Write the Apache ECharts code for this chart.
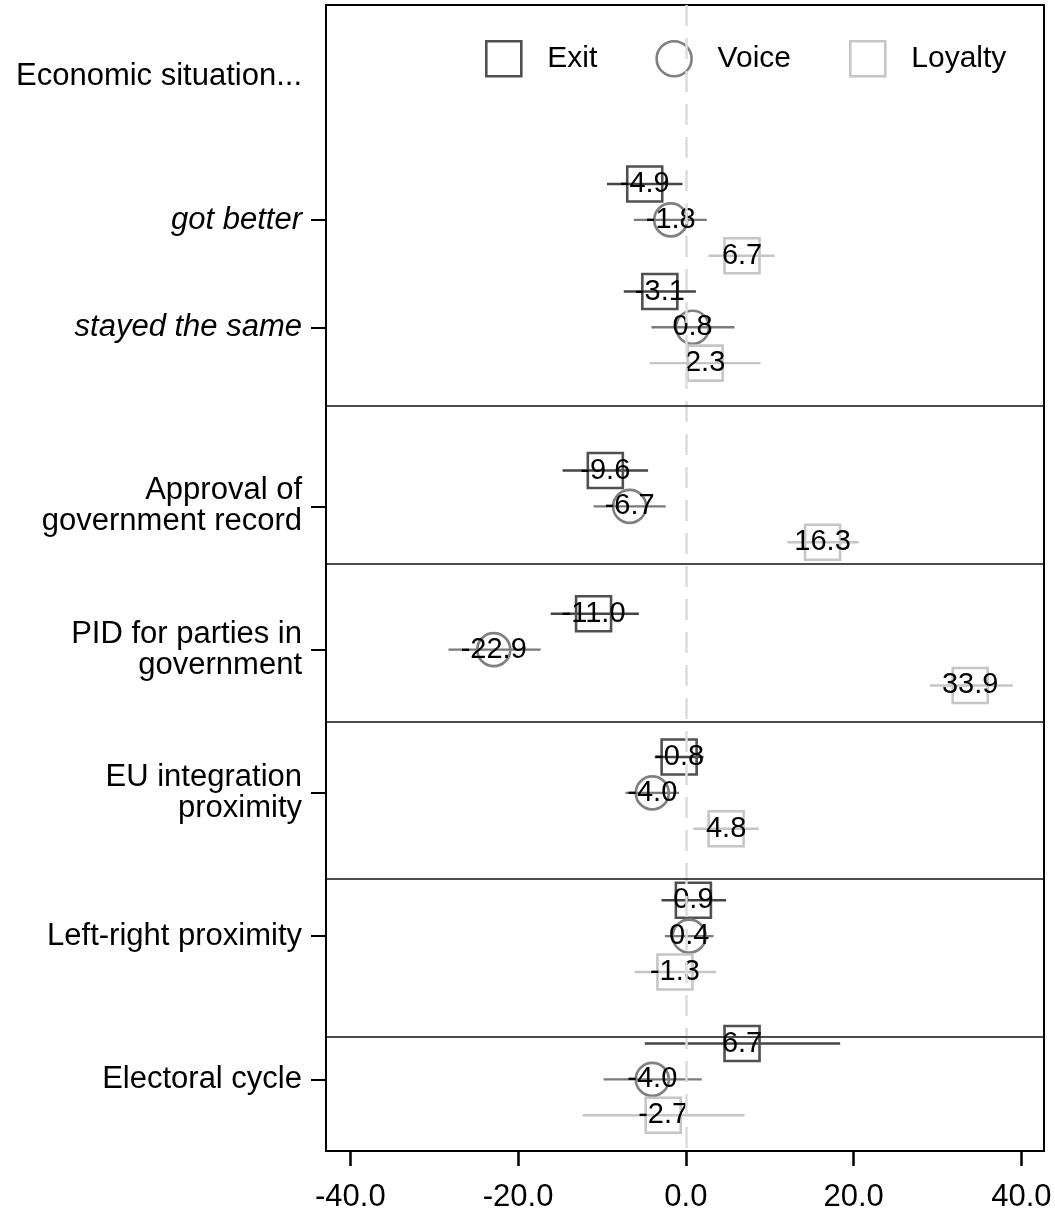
<!DOCTYPE html>
<html>
<head>
<meta charset="utf-8">
<script src="https://cdn.jsdelivr.net/npm/echarts@6/dist/echarts.min.js"></script>
<style>
  html, body { margin: 0; padding: 0; background: #fff; }
  #chart { width: 1055px; height: 1213px; }
</style>
</head>
<body>
<div id="chart"></div>
<script>
// Predictors (rows) and estimates with confidence intervals for each outcome
const categories = [
  'got better',
  'stayed the same',
  'Approval of\ngovernment record',
  'PID for parties in\ngovernment',
  'EU integration\nproximity',
  'Left-right proximity',
  'Electoral cycle'
];
const headerLabel = 'Economic situation...';

const exitEst = [-4.9, -3.1, -9.6, -11.0, -0.8, 0.9, 6.7];
const exitLo  = [-9.4, -7.4, -14.7, -16.1, -3.7, -2.9, -4.9];
const exitHi  = [-0.4, 1.2, -4.5, -5.6, 2.1, 4.8, 18.4];

const voiceEst = [-1.8, 0.8, -6.7, -22.9, -4.0, 0.4, -4.0];
const voiceLo  = [-6.2, -4.1, -11.0, -28.3, -7.2, -2.5, -9.8];
const voiceHi  = [2.5, 5.8, -2.4, -17.3, -0.8, 3.3, 1.9];

const loyaltyEst = [6.7, 2.3, 16.3, 33.9, 4.8, -1.3, -2.7];
const loyaltyLo  = [2.7, -4.3, 12.1, 29.1, 0.9, -6.1, -12.3];
const loyaltyHi  = [10.6, 8.9, 20.6, 39.0, 8.7, 3.6, 7.0];

const xTicks = [-40, -20, 0, 20, 40];

// Layout of the vertical slots: each predictor takes three rows (Exit, Voice, Loyalty)
const rowStart = [5, 8, 13, 17, 21, 25, 29];
const headerRow = 2;
const separators = [11.2, 15.6, 20.0, 24.4, 28.8];

const FONT = '"Liberation Sans", Arial, sans-serif';

const groups = [
  { name: 'Exit',    est: exitEst,    lo: exitLo,    hi: exitHi,    offset: 0, symbol: 'rect',   size: 35, color: '#505050', bar: '#454545' },
  { name: 'Voice',   est: voiceEst,   lo: voiceLo,   hi: voiceHi,   offset: 1, symbol: 'circle', size: 33, color: '#808080', bar: '#7a7a7a' },
  { name: 'Loyalty', est: loyaltyEst, lo: loyaltyLo, hi: loyaltyHi, offset: 2, symbol: 'rect',   size: 35, color: '#c6c6c6', bar: '#c6c6c6' }
];

// y-axis label lookup
const yLabelMap = {};
yLabelMap[headerRow] = headerLabel;
categories.forEach((c, i) => { yLabelMap[rowStart[i] + 1] = c; });
const italicRows = new Set([rowStart[0] + 1, rowStart[1] + 1]);
const labelRows = [headerRow].concat(rowStart.map(r => r + 1));
const tickRows = rowStart.map(r => r + 1);

const series = [];
groups.forEach(g => {
  // confidence interval whiskers
  series.push({
    name: g.name + ' CI',
    type: 'custom',
    z: 2,
    silent: true,
    data: g.est.map((_, i) => [g.lo[i], g.hi[i], rowStart[i] + g.offset]),
    renderItem: function (params, api) {
      const a = api.coord([api.value(0), api.value(2)]);
      const b = api.coord([api.value(1), api.value(2)]);
      return {
        type: 'line',
        shape: { x1: a[0], y1: a[1], x2: b[0], y2: b[1] },
        style: { stroke: g.bar, lineWidth: 2.4, opacity: 1 }
      };
    }
  });
  // point estimates with value labels
  series.push({
    name: g.name,
    type: 'scatter',
    z: 3,
    symbol: g.symbol,
    symbolSize: g.size,
    itemStyle: { color: 'rgba(255,255,255,0)', borderColor: g.color, borderWidth: 2.6, opacity: 1 },
    label: {
      show: true,
      position: 'inside',
      formatter: p => p.value[0].toFixed(1),
      color: '#000',
      opacity: 1,
      textBorderWidth: 0,
      fontFamily: FONT,
      fontSize: 29
    },
    emphasis: { disabled: true },
    data: g.est.map((v, i) => [v, rowStart[i] + g.offset])
  });
});

// zero reference line and panel separators
series.push({
  name: 'guides',
  type: 'line',
  data: [],
  silent: true,
  markLine: {
    silent: true,
    symbol: 'none',
    label: { show: false },
    animation: false,
    data: [
      { xAxis: 0, lineStyle: { color: '#dcdcdc', width: 2.5, type: [21, 12], opacity: 1 } }
    ].concat(separators.map(s => ({ yAxis: s, lineStyle: { color: '#111', width: 1.5, type: 'solid', opacity: 1 } })))
  }
});

const chart = echarts.init(document.getElementById('chart'), null, { renderer: 'canvas' });
chart.setOption({
  animation: false,
  backgroundColor: '#fff',
  textStyle: { fontFamily: FONT },
  grid: {
    left: 326, right: 11, top: 5, bottom: 60,
    show: true, borderColor: '#000', borderWidth: 2, backgroundColor: 'transparent'
  },
  legend: {
    left: 485,
    top: 40,
    padding: 0,
    itemWidth: 35,
    itemHeight: 35,
    itemGap: 58,
    selectedMode: false,
    textStyle: { fontFamily: FONT, fontSize: 30, color: '#000', padding: [0, 0, 0, 21] },
    data: groups.map(g => ({
      name: g.name,
      icon: g.symbol,
      itemStyle: { color: 'rgba(255,255,255,0)', borderColor: g.color, borderWidth: 2.6, opacity: 1 }
    }))
  },
  xAxis: {
    type: 'value',
    min: -42.9,
    max: 42.7,
    splitLine: { show: false },
    axisLine: { show: true, onZero: false, lineStyle: { color: '#000', width: 2 } },
    axisTick: { show: true, customValues: xTicks, length: 15, lineStyle: { color: '#000', width: 2.5 } },
    axisLabel: {
      customValues: xTicks,
      formatter: v => v.toFixed(1),
      fontFamily: FONT,
      fontSize: 31,
      color: '#000',
      margin: 31
    }
  },
  yAxis: {
    type: 'value',
    inverse: true,
    min: 0,
    max: 32,
    splitLine: { show: false },
    axisLine: { show: true, onZero: false, lineStyle: { color: '#000', width: 2 } },
    axisTick: { show: true, customValues: tickRows, length: 15, lineStyle: { color: '#000', width: 2 } },
    axisLabel: {
      customValues: labelRows,
      margin: 24,
      fontFamily: FONT,
      fontSize: 31,
      lineHeight: 31,
      color: '#000',
      formatter: v => {
        const t = yLabelMap[v] || '';
        return italicRows.has(v) ? '{it|' + t + '}' : t;
      },
      rich: {
        it: { fontStyle: 'italic', fontFamily: FONT, fontSize: 31, color: '#000' }
      }
    }
  },
  series: series
});
</script>
</body>
</html>
